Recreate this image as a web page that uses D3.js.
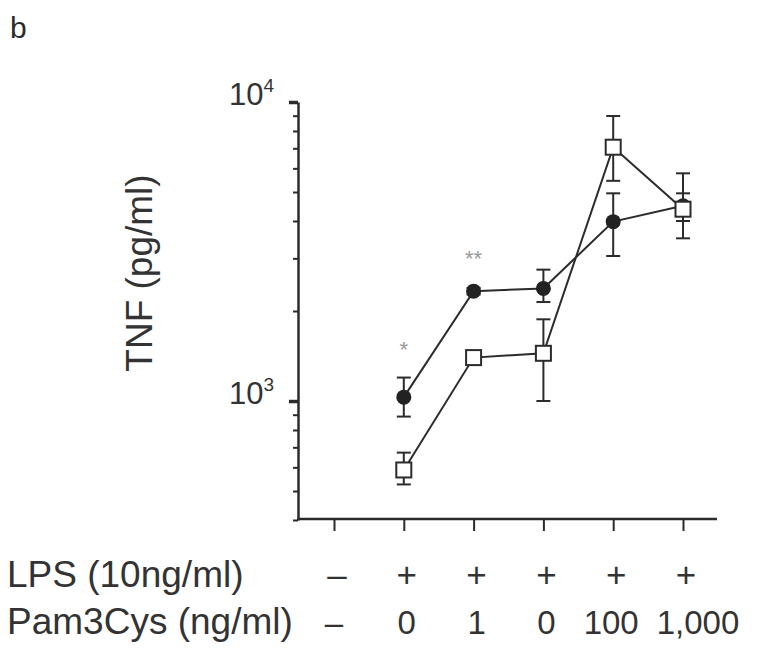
<!DOCTYPE html>
<html>
<head>
<meta charset="utf-8">
<script src="https://cdn.jsdelivr.net/npm/d3@7"></script>
<style>
  html, body { margin: 0; padding: 0; background: #fff; }
  svg { display: block; font-family: "Liberation Sans", Arial, sans-serif; }
</style>
</head>
<body>
<div id="chart"></div>
<script>
(function () {
  'use strict';

  // ---- data ----
  var lpsRow   = ['\u2013', '+', '+', '+', '+', '+'];
  var pamRow   = ['\u2013', '0', '1', '0', '100', '1,000'];
  var pamShift = [0, 3, 3, 3, -2, 15];

  // filled circles
  var circleVal = [null, 1030, 2330, 2380, 3980, 4500];
  var circleLo  = [null,  887, 2270, 2143, 3055, 4000];
  var circleHi  = [null, 1198, 2390, 2750, 4950, 4950];

  // open squares
  var squareVal = [null,  588, 1397, 1444, 7060, 4380];
  var squareLo  = [null,  526, 1360, 1000, 5450, 3500];
  var squareHi  = [null,  672, 1430, 1876, 8980, 5774];

  var stars = [null, '*', '**', null, null, null];
  var starVal = [null, 1540, 3100, null, null, null];

  var minorTicks = [400, 500, 600, 700, 800, 900, 2000, 3000, 4000, 5000, 6000, 7000, 8000, 9000];
  var majorTicks = [1000, 10000];
  var majorExp   = ['3', '4'];

  var W = 759, H = 648;
  var ink = '#2b2b2b';

  var svg = d3.select('#chart').append('svg')
    .attr('width', W).attr('height', H);

  var x = d3.scaleLinear().domain([0, 5]).range([334, 683]);
  var y = d3.scaleLog().domain([400, 10000]).range([520, 102]);

  /* panel letter */
  svg.append('text')
    .attr('x', 10).attr('y', 38)
    .attr('font-size', 30).attr('fill', ink)
    .text('b');

  /* y axis: minor + major ticks */
  var yMinor = svg.append('g')
    .attr('transform', 'translate(298,0)')
    .call(d3.axisLeft(y).tickValues(minorTicks).tickSize(5).tickSizeOuter(0).tickFormat(''));
  yMinor.select('.domain').attr('stroke', ink).attr('stroke-width', 2.5);
  yMinor.selectAll('.tick line').attr('stroke', ink).attr('stroke-width', 2);

  var yMajor = svg.append('g')
    .attr('transform', 'translate(298,0)')
    .call(d3.axisLeft(y).tickValues(majorTicks).tickSize(9).tickFormat(''));
  yMajor.select('.domain').remove();
  yMajor.selectAll('.tick line').attr('stroke', ink).attr('stroke-width', 3.5);

  majorTicks.forEach(function (v, i) {
    var t = svg.append('text')
      .attr('x', 229).attr('y', y(v) + 3)
      .attr('font-size', 31).attr('fill', '#333');
    t.append('tspan').text('10');
    t.append('tspan').attr('dy', -13).attr('font-size', 19).text(majorExp[i]);
  });

  /* y title */
  svg.append('text')
    .attr('transform', 'translate(152,273) rotate(-90)')
    .attr('text-anchor', 'middle')
    .attr('font-size', 37).attr('fill', '#333')
    .text('TNF (pg/ml)');

  /* x axis */
  var xAxis = svg.append('g')
    .attr('transform', 'translate(0,519)')
    .call(d3.axisBottom(x).tickValues(d3.range(6)).tickSize(12).tickSizeOuter(0).tickFormat(''));
  xAxis.select('.domain').remove();
  xAxis.selectAll('.tick line').attr('stroke', ink).attr('stroke-width', 2);
  svg.append('line')
    .attr('x1', 297).attr('x2', 717).attr('y1', 519).attr('y2', 519)
    .attr('stroke', ink).attr('stroke-width', 2.5);

  /* series */
  function idx(arr) {
    return d3.range(arr.length).filter(function (i) { return arr[i] != null; });
  }

  var lineGen = d3.line()
    .x(function (d) { return x(d.i); })
    .y(function (d) { return y(d.v); });

  function drawSeries(vals, lo, hi, kind) {
    var pts = idx(vals).map(function (i) { return { i: i, v: vals[i], lo: lo[i], hi: hi[i] }; });
    var g = svg.append('g');

    // error bars
    pts.forEach(function (d) {
      g.append('line')
        .attr('x1', x(d.i)).attr('x2', x(d.i))
        .attr('y1', y(d.lo)).attr('y2', y(d.hi))
        .attr('stroke', ink).attr('stroke-width', 2);
      [d.lo, d.hi].forEach(function (e) {
        g.append('line')
          .attr('x1', x(d.i) - 7).attr('x2', x(d.i) + 7)
          .attr('y1', y(e)).attr('y2', y(e))
          .attr('stroke', ink).attr('stroke-width', 2);
      });
    });

    g.append('path')
      .datum(pts)
      .attr('fill', 'none')
      .attr('stroke', ink)
      .attr('stroke-width', 2)
      .attr('d', lineGen);

    if (kind === 'circle') {
      g.selectAll('circle').data(pts).join('circle')
        .attr('cx', function (d) { return x(d.i); })
        .attr('cy', function (d) { return y(d.v); })
        .attr('r', 7.5)
        .attr('fill', '#222');
    } else {
      g.selectAll('rect').data(pts).join('rect')
        .attr('x', function (d) { return x(d.i) - 7.5; })
        .attr('y', function (d) { return y(d.v) - 7.5; })
        .attr('width', 15).attr('height', 15)
        .attr('fill', '#fff')
        .attr('stroke', ink).attr('stroke-width', 2);
    }
  }

  drawSeries(circleVal, circleLo, circleHi, 'circle');
  drawSeries(squareVal, squareLo, squareHi, 'square');

  /* significance marks */
  idx(stars).forEach(function (i) {
    svg.append('text')
      .attr('x', x(i)).attr('y', y(starVal[i]) + 12)
      .attr('text-anchor', 'middle')
      .attr('font-size', 22).attr('fill', '#9a9a9a')
      .text(stars[i]);
  });

  /* treatment rows */
  svg.append('text')
    .attr('x', 7).attr('y', 587)
    .attr('font-size', 37).attr('fill', '#333')
    .text('LPS (10ng/ml)');
  svg.append('text')
    .attr('x', 7).attr('y', 634)
    .attr('font-size', 37).attr('fill', '#333')
    .text('Pam3Cys (ng/ml)');

  lpsRow.forEach(function (s, i) {
    svg.append('text')
      .attr('x', x(i) + 3).attr('y', 587)
      .attr('text-anchor', 'middle')
      .attr('font-size', 35).attr('fill', '#333')
      .text(s);
  });
  pamRow.forEach(function (s, i) {
    svg.append('text')
      .attr('x', x(i) + pamShift[i]).attr('y', 634)
      .attr('text-anchor', 'middle')
      .attr('font-size', 33).attr('fill', '#333')
      .text(s);
  });
})();
</script>
</body>
</html>
